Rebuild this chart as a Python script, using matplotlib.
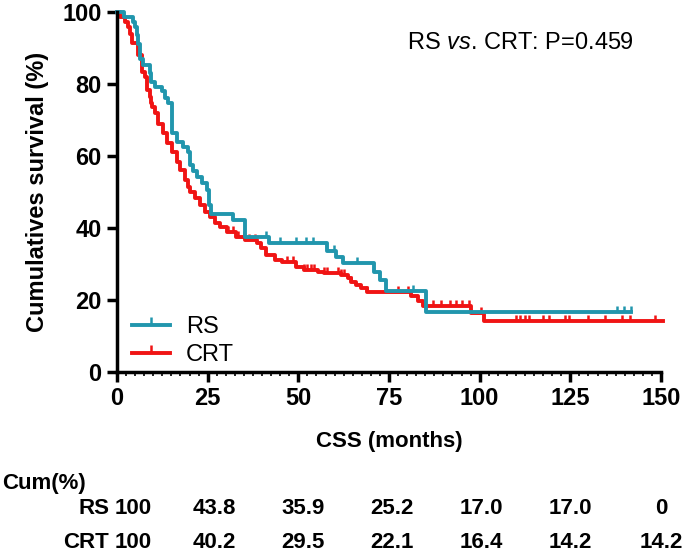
import numpy as np
import matplotlib
matplotlib.use("Agg")
import matplotlib.pyplot as plt
from matplotlib.lines import Line2D

plt.rcParams['font.family'] = ['Liberation Sans', 'DejaVu Sans']
plt.rcParams['mathtext.fontset'] = 'custom'
plt.rcParams['mathtext.rm'] = 'Liberation Sans'
plt.rcParams['mathtext.it'] = 'Liberation Sans:italic'

# Kaplan-Meier steps (months, survival %)
rs_t = [0, 1.8, 4.5, 5.0, 5.5, 5.9, 6.4, 7.2, 9.1, 9.3, 10.5, 12.3, 13.2, 14.0, 15.1,
        15.3, 16.5, 18.3, 19.7, 20.2, 21.0, 22.0, 23.4, 24.8, 25.5, 25.8, 31.9, 35.4,
        41.8, 58.0, 60.3, 62.2, 71.0, 72.4, 74.2, 85.2]
rs_s = [100, 98.5, 97.2, 95.8, 93.5, 91.0, 87.0, 85.3, 83.0, 80.5, 79.2, 78.0, 76.2, 74.7, 72.8,
        66.4, 64.0, 62.6, 61.2, 57.5, 55.8, 54.3, 52.5, 50.5, 46.5, 43.8, 42.2, 37.6,
        35.9, 33.6, 32.0, 30.2, 27.9, 25.6, 22.6, 16.8]
rs_end = 141.6
rs_cens = [41.0, 45.0, 49.3, 52.0, 54.0, 59.8, 66.3, 81.5, 137.8, 139.7, 141.6]

crt_t = [0, 0.8, 2.2, 3.0, 3.6, 4.0, 5.8, 6.8, 6.9, 7.7, 8.2, 9.1, 9.3, 9.6, 10.5, 11.3,
         12.7, 13.7, 15.1, 16.5, 17.4, 18.8, 19.5, 20.2, 21.6, 23.0, 24.4, 25.7, 27.1,
         28.5, 30.3, 32.7, 35.4, 38.7, 39.6, 41.0, 43.7, 45.5, 49.3, 51.5, 55.3, 57.0,
         61.7, 63.6, 64.5, 65.9, 67.3, 69.0, 81.0, 83.0, 84.5, 97.5, 101.3]
crt_s = [100, 98.7, 97.3, 95.9, 94.0, 91.3, 88.0, 86.7, 83.3, 82.0, 78.3, 76.5, 74.7, 73.7, 71.9, 69.0,
         66.4, 63.6, 61.2, 58.4, 56.1, 53.3, 51.5, 50.1, 48.3, 46.4, 44.5, 43.1, 41.4,
         40.4, 39.0, 37.6, 36.7, 35.8, 34.4, 32.5, 31.1, 30.6, 29.3, 28.3, 27.9, 27.5,
         26.9, 26.1, 25.1, 24.2, 23.3, 22.3, 21.2, 19.8, 18.4, 16.4, 14.2]
crt_end = 150.5
crt_cens = [30.5, 32.0, 33.5, 35.0, 36.5, 38.0, 47.0, 48.5, 51.5, 52.3, 53.4, 54.3, 57.0,
            58.0, 61.0, 61.8, 62.6, 64.5, 69.0, 77.4, 80.2, 87.0, 89.4, 91.7, 93.5, 95.0,
            97.0, 100.5, 110.0, 111.0, 112.5, 113.5, 117.5, 119.0, 123.5, 124.5, 130.0,
            134.5, 139.2, 141.4, 148.4]

# numbers-at-time table printed under the plot
table_times = [0, 25, 50, 75, 100, 125, 150]
rs_cum = ['100', '43.8', '35.9', '25.2', '17.0', '17.0', '0']
crt_cum = ['100', '40.2', '29.5', '22.1', '16.4', '14.2', '14.2']

teal = '#2196ad'
red = '#f01414'


def surv_at(t, s, times):
    idx = np.searchsorted(t, times, side='right') - 1
    return np.asarray(s)[idx]


fig = plt.figure(figsize=(6.85, 5.55), dpi=100)
ax = fig.add_axes([117/685, 1-372/555, 544/685, 360/555])

for t, s, end, cens, col in [(crt_t, crt_s, crt_end, crt_cens, red),
                             (rs_t, rs_s, rs_end, rs_cens, teal)]:
    ax.step(t + [end], s + [s[-1]], where='post', color=col, lw=2.8, clip_on=False)
    ax.plot(cens, surv_at(t, s, cens), ls='none', marker=2, ms=4.5, mew=1.8,
            color=col, clip_on=False)

ax.set_xlim(0, 150)
ax.set_ylim(0, 100)
ax.set_xticks(np.arange(0, 151, 25))
ax.set_xticks(np.arange(0, 151, 2.5), minor=True)
ax.set_yticks(np.arange(0, 101, 20))
for side in ['top', 'right']:
    ax.spines[side].set_visible(False)
for side in ['left', 'bottom']:
    ax.spines[side].set_linewidth(2.5)
ax.tick_params(which='major', width=2.5, length=7, labelsize=17, pad=4)
ax.tick_params(axis='x', which='minor', width=1.2, length=3)
for lab in ax.get_xticklabels() + ax.get_yticklabels():
    lab.set_fontweight('bold')

ax.set_ylabel('Cumulatives survival (%)', fontsize=17, fontweight='bold')
ax.yaxis.set_label_coords(-0.125, 0.5)
ax.set_xlabel('CSS (months)', fontsize=16, fontweight='bold')
ax.xaxis.set_label_coords(0.5, -0.165)

ax.text(0.533, 0.914, 'RS $vs$. CRT: P=0.459', transform=ax.transAxes,
        fontsize=17, ha='left', va='center')

handles = [Line2D([0], [0], color=teal, lw=2.8, marker=2, ms=6, mew=1.8),
           Line2D([0], [0], color=red, lw=2.8, marker=2, ms=6, mew=1.8)]
ax.legend(handles, ['RS', 'CRT'], loc='lower left', bbox_to_anchor=(0.01, -0.01),
          borderaxespad=0, frameon=False, fontsize=17, handlelength=1.6,
          handletextpad=0.7, labelspacing=0.25, numpoints=1)

fig.text(2/685, 1-484/555, 'Cum(%)', fontsize=16, fontweight='bold', va='center')
col_shift = [16, 7, 5, 3, 2, 0, 0]
for lab, vals, ypx in [('RS', rs_cum, 508), ('CRT', crt_cum, 543)]:
    fig.text(109/685, 1-ypx/555, lab, fontsize=16, fontweight='bold', ha='right', va='center')
    for tt, v, dx in zip(table_times, vals, col_shift):
        xpx = 117 + tt/150*544 + dx
        fig.text(xpx/685, 1-ypx/555, v, fontsize=16, fontweight='bold', ha='center', va='center')

fig.savefig('out.png', dpi=100)
